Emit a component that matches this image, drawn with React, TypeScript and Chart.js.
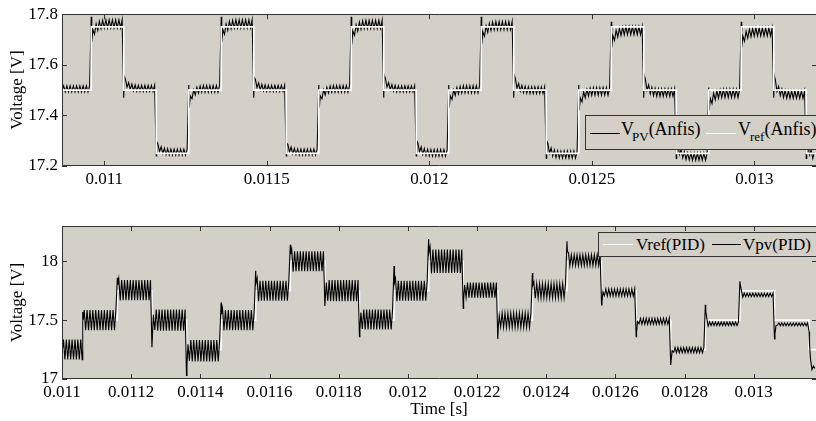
import React, { useEffect, useRef } from "react";
import { Chart, registerables } from "chart.js";

Chart.register(...registerables);

const FONT = "'Liberation Serif', 'Times New Roman', serif";
const PLOT_BG = "#d4d0c8";
const FRAME = "#333333";

// one reference step lasts 0.0001 s in both panels
const stepDuration = 0.0001;

// ---------- Upper panel (ANFIS) ----------
const topXMin = 0.01087;
const topXMax = 0.01319;
const topYMin = 17.2;
const topYMax = 17.8;
const topXTicks = [0.011, 0.0115, 0.012, 0.0125, 0.013];
const topYTicks = [17.2, 17.4, 17.6, 17.8];
const topStepTimes = [
  0.01087, 0.01096, 0.01106, 0.01116, 0.01126, 0.01136, 0.01146, 0.01156,
  0.01166, 0.01176, 0.01186, 0.01196, 0.01206, 0.01216, 0.01226, 0.01236,
  0.01246, 0.01256, 0.01266, 0.01276, 0.01286, 0.01296, 0.01306, 0.01316,
];
const topRefLevels = [
  17.5, 17.75, 17.5, 17.25, 17.5, 17.75, 17.5, 17.25,
  17.5, 17.75, 17.5, 17.25, 17.5, 17.75, 17.5, 17.25,
  17.5, 17.75, 17.5, 17.25, 17.5, 17.75, 17.5, 17.25,
];
const topPvSpike = [
  null, 17.79, 17.47, 17.24, 17.52, 17.79, 17.47, 17.24,
  17.52, 17.79, 17.47, 17.24, 17.52, 17.79, 17.47, 17.23,
  17.52, 17.77, 17.47, 17.23, 17.51, 17.77, 17.47, 17.23,
];
const topPvStart = [
  17.505, 17.69, 17.555, 17.295, 17.43, 17.69, 17.55, 17.29,
  17.43, 17.68, 17.56, 17.3, 17.43, 17.68, 17.56, 17.3,
  17.42, 17.67, 17.56, 17.3, 17.42, 17.67, 17.56, 17.3,
];
const topPvCenter = [
  17.505, 17.762, 17.507, 17.255, 17.505, 17.762, 17.507, 17.255,
  17.505, 17.76, 17.505, 17.252, 17.503, 17.755, 17.5, 17.245,
  17.495, 17.735, 17.49, 17.237, 17.487, 17.73, 17.482, 17.235,
];
const topPvRipple = [
  0.012, 0.016, 0.012, 0.012, 0.013, 0.016, 0.012, 0.012,
  0.013, 0.016, 0.012, 0.013, 0.014, 0.016, 0.013, 0.014,
  0.015, 0.016, 0.015, 0.014, 0.016, 0.016, 0.015, 0.014,
];
const topRippleCycles = 10;
const topApproach = [0, 0.45, 0.65, 0.78, 0.86, 0.91, 0.95, 0.97, 0.99, 1];

// ---------- Lower panel (PID) ----------
const botXMin = 0.011;
const botXMax = 0.01318;
const botYMin = 17;
const botYMax = 18.3;
const botXTicks = [
  0.011, 0.0112, 0.0114, 0.0116, 0.0118, 0.012, 0.0122, 0.0124, 0.0126,
  0.0128, 0.013,
];
const botYTicks = [17, 17.5, 18];
const botStepTimes = [
  0.011, 0.01106, 0.01116, 0.01126, 0.01136, 0.01146, 0.01156, 0.01166,
  0.01176, 0.01186, 0.01196, 0.01206, 0.01216, 0.01226, 0.01236, 0.01246,
  0.01256, 0.01266, 0.01276, 0.01286, 0.01296, 0.01306, 0.01316,
];
const botRefLevels = [
  17.25, 17.5, 17.75, 17.5, 17.25, 17.5, 17.75, 18,
  17.75, 17.5, 17.75, 18, 17.75, 17.5, 17.75, 18,
  17.75, 17.5, 17.25, 17.5, 17.75, 17.5, 17.25,
];
const botPvSpike = [
  null, 17.57, 17.86, 17.27, 17.03, 17.65, 17.92, 18.14,
  17.62, 17.36, 17.96, 18.19, 17.6, 17.34, 17.9, 18.17,
  17.63, 17.36, 17.12, 17.63, 17.83, 17.34, 17.4,
];
const botPvStart = [
  17.25, 17.5, 17.8, 17.35, 17.12, 17.55, 17.82, 18.06,
  17.68, 17.42, 17.82, 18.08, 17.68, 17.43, 17.8, 18.08,
  17.66, 17.4, 17.16, 17.58, 17.8, 17.38, 17.3,
];
const botPvCenter = [
  17.25, 17.5, 17.755, 17.5, 17.24, 17.5, 17.75, 18.0,
  17.75, 17.505, 17.75, 18.0, 17.755, 17.5, 17.75, 18.01,
  17.735, 17.49, 17.245, 17.47, 17.715, 17.465, 17.1,
];
const botPvRipple = [
  0.085, 0.085, 0.085, 0.09, 0.09, 0.085, 0.085, 0.085,
  0.09, 0.085, 0.085, 0.1, 0.065, 0.06, 0.06, 0.045,
  0.03, 0.025, 0.022, 0.015, 0.015, 0.012, 0.01,
];
const botRippleCycles = 12;
const botApproach = [0, 0.7, 1.05, 1];

type Pt = { x: number; y: number };

function buildRef(times: number[], levels: number[], xMax: number): Pt[] {
  const pts = times.map((t, i) => ({ x: t, y: levels[i] }));
  pts.push({ x: xMax, y: levels[levels.length - 1] });
  return pts;
}

function buildPv(
  times: number[],
  xMax: number,
  spike: (number | null)[],
  start: number[],
  center: number[],
  ripple: number[],
  cycles: number,
  approach: number[]
): Pt[] {
  const pts: Pt[] = [];
  const half = stepDuration / (2 * cycles);
  for (let i = 0; i < times.length; i++) {
    const t0 = times[i];
    const t1 = i + 1 < times.length ? times[i + 1] : xMax;
    const sp = spike[i];
    if (sp !== null) pts.push({ x: t0, y: sp });
    pts.push({ x: t0 + half * 0.3, y: start[i] });
    let k = 1;
    for (let t = t0 + half; t < t1 - half * 0.2; t += half, k++) {
      const f = approach[Math.min(k, approach.length - 1)];
      const base = start[i] + (center[i] - start[i]) * f;
      pts.push({ x: t, y: base + (k % 2 === 1 ? ripple[i] : -ripple[i]) });
    }
  }
  return pts;
}

const framePlugin = {
  id: "matlabFrame",
  beforeDraw(chart: any) {
    const { ctx, chartArea: a } = chart;
    ctx.save();
    ctx.fillStyle = "#ffffff";
    ctx.fillRect(0, 0, chart.width, chart.height);
    ctx.fillStyle = PLOT_BG;
    ctx.fillRect(a.left, a.top, a.right - a.left, a.bottom - a.top);
    ctx.restore();
  },
  afterDatasetsDraw(chart: any) {
    const { ctx, chartArea: a, scales } = chart;
    const L = 5;
    ctx.save();
    ctx.strokeStyle = FRAME;
    ctx.lineWidth = 1;
    ctx.beginPath();
    for (const tk of scales.x.ticks) {
      const px = Math.round(scales.x.getPixelForValue(tk.value)) + 0.5;
      ctx.moveTo(px, a.bottom);
      ctx.lineTo(px, a.bottom - L);
      ctx.moveTo(px, a.top);
      ctx.lineTo(px, a.top + L);
    }
    for (const tk of scales.y.ticks) {
      const py = Math.round(scales.y.getPixelForValue(tk.value)) + 0.5;
      ctx.moveTo(a.left, py);
      ctx.lineTo(a.left + L, py);
      ctx.moveTo(a.right, py);
      ctx.lineTo(a.right - 4, py);
    }
    const l = Math.round(a.left) + 0.5;
    const t = Math.round(a.top) + 0.5;
    const b = Math.round(a.bottom) - 0.5;
    ctx.moveTo(a.right, t);
    ctx.lineTo(l, t);
    ctx.lineTo(l, b);
    ctx.lineTo(a.right, b);
    ctx.stroke();
    ctx.restore();
  },
};

function makeOptions(
  xMin: number,
  xMax: number,
  xTicks: number[],
  yMin: number,
  yMax: number,
  yTicks: number[],
  xHeight: number,
  topPad: number,
  xTitle: string | null
): any {
  const tickFont = { family: FONT, size: 17 };
  return {
    responsive: false,
    animation: false,
    devicePixelRatio: 1,
    events: [],
    layout: { padding: { top: topPad, left: 0, right: 0, bottom: 0 } },
    plugins: { legend: { display: false }, tooltip: { enabled: false } },
    elements: { point: { radius: 0 } },
    scales: {
      x: {
        type: "linear",
        min: xMin,
        max: xMax,
        grid: { display: false, drawTicks: false },
        border: { display: false },
        ticks: {
          font: tickFont,
          color: "#000",
          padding: 3,
          maxRotation: 0,
          autoSkip: false,
          callback: (v: number) => String(v),
        },
        afterBuildTicks: (s: any) => {
          s.ticks = xTicks.map((v) => ({ value: v }));
        },
        afterFit: (s: any) => {
          s.height = xHeight;
        },
        title: xTitle
          ? {
              display: true,
              text: xTitle,
              font: tickFont,
              color: "#000",
              padding: { top: 0, bottom: 1 },
            }
          : { display: false },
      },
      y: {
        type: "linear",
        min: yMin,
        max: yMax,
        grid: { display: false, drawTicks: false },
        border: { display: false },
        ticks: {
          font: tickFont,
          color: "#000",
          padding: 4,
          callback: (v: number) => String(v),
        },
        afterBuildTicks: (s: any) => {
          s.ticks = yTicks.map((v) => ({ value: v }));
        },
        afterFit: (s: any) => {
          s.width = 62;
        },
        title: {
          display: true,
          text: "Voltage [V]",
          font: tickFont,
          color: "#000",
          padding: { top: 7, bottom: 0 },
        },
      },
    },
  };
}

export default function App() {
  const topRef = useRef<HTMLCanvasElement>(null);
  const botRef = useRef<HTMLCanvasElement>(null);

  useEffect(() => {
    const topChart = new Chart(topRef.current as HTMLCanvasElement, {
      type: "line",
      data: {
        datasets: [
          {
            label: "Vref(Anfis)",
            data: buildRef(topStepTimes, topRefLevels, topXMax),
            borderColor: "#ffffff",
            borderWidth: 1.6,
            stepped: true,
            pointRadius: 0,
          },
          {
            label: "VPV(Anfis)",
            data: buildPv(
              topStepTimes,
              topXMax,
              topPvSpike,
              topPvStart,
              topPvCenter,
              topPvRipple,
              topRippleCycles,
              topApproach
            ),
            borderColor: "#000000",
            borderWidth: 1.1,
            pointRadius: 0,
          },
        ],
      } as any,
      options: makeOptions(
        topXMin,
        topXMax,
        topXTicks,
        topYMin,
        topYMax,
        topYTicks,
        34,
        11,
        null
      ),
      plugins: [framePlugin],
    });

    const botChart = new Chart(botRef.current as HTMLCanvasElement, {
      type: "line",
      data: {
        datasets: [
          {
            label: "Vpv(PID)",
            data: buildPv(
              botStepTimes,
              botXMax,
              botPvSpike,
              botPvStart,
              botPvCenter,
              botPvRipple,
              botRippleCycles,
              botApproach
            ),
            borderColor: "#000000",
            borderWidth: 1.1,
            pointRadius: 0,
          },
          {
            label: "Vref(PID)",
            data: buildRef(botStepTimes, botRefLevels, botXMax),
            borderColor: "#ffffff",
            borderWidth: 1.6,
            stepped: true,
            pointRadius: 0,
          },
        ],
      } as any,
      options: makeOptions(
        botXMin,
        botXMax,
        botXTicks,
        botYMin,
        botYMax,
        botYTicks,
        42,
        26,
        "Time [s]"
      ),
      plugins: [framePlugin],
    });

    return () => {
      topChart.destroy();
      botChart.destroy();
    };
  }, []);

  const sampleLine = (left: number, top: number, color: string, w: number) => (
    <div
      style={{
        position: "absolute",
        left,
        top,
        width: w,
        height: 0,
        borderTop: `1.6px solid ${color}`,
      }}
    />
  );

  return (
    <div
      style={{
        position: "fixed",
        left: 0,
        top: 0,
        width: 816,
        height: 421,
        background: "#fff",
        overflow: "hidden",
      }}
    >
      <canvas
        ref={topRef}
        width={816}
        height={200}
        style={{ position: "absolute", left: 0, top: 0 }}
      />
      <canvas
        ref={botRef}
        width={816}
        height={221}
        style={{ position: "absolute", left: 0, top: 200 }}
      />

      {/* upper legend */}
      <div
        style={{
          position: "absolute",
          left: 585,
          top: 115,
          width: 260,
          height: 33,
          border: `1px solid ${FRAME}`,
          background: PLOT_BG,
          fontFamily: FONT,
          fontSize: 18,
          lineHeight: "18px",
          color: "#000",
          whiteSpace: "nowrap",
        }}
      >
        {sampleLine(4, 17, "#000", 30)}
        <span style={{ position: "absolute", left: 35, top: 4 }}>
          V
          <span
            style={{
              fontSize: 13,
              position: "relative",
              top: 6,
              marginLeft: -2,
            }}
          >
            PV
          </span>
          (Anfis)
        </span>
        {sampleLine(120, 17, "#fff", 30)}
        <span style={{ position: "absolute", left: 152, top: 4 }}>
          V
          <span
            style={{
              fontSize: 13,
              position: "relative",
              top: 6,
              marginLeft: -1,
            }}
          >
            ref
          </span>
          (Anfis)
        </span>
      </div>

      {/* lower legend */}
      <div
        style={{
          position: "absolute",
          left: 598,
          top: 232,
          width: 240,
          height: 23,
          border: `1px solid ${FRAME}`,
          background: PLOT_BG,
          fontFamily: FONT,
          fontSize: 17,
          lineHeight: "17px",
          color: "#000",
          whiteSpace: "nowrap",
        }}
      >
        {sampleLine(4, 11, "#fff", 30)}
        <span style={{ position: "absolute", left: 37, top: 3 }}>Vref(PID)</span>
        {sampleLine(113, 11, "#000", 29)}
        <span style={{ position: "absolute", left: 144, top: 3 }}>Vpv(PID)</span>
      </div>
    </div>
  );
}
